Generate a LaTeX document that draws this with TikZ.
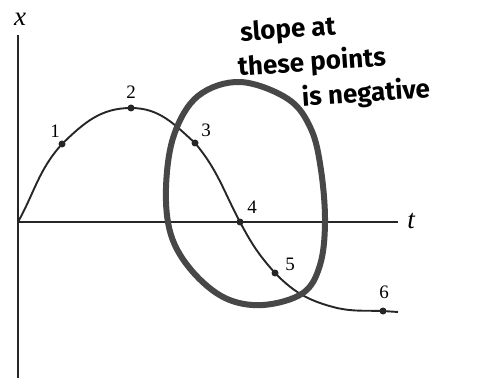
\documentclass[tikz,border=0pt]{standalone}
\usepackage{fontspec}
\setmainfont{Liberation Serif}
\newfontfamily\hand{Fira Sans}
\begin{document}
\begin{tikzpicture}[x=1pt,y=1pt,
  axis/.style={line width=2pt,black!85},
  curve/.style={line width=1.9pt,black!85},
  dot/.style={circle,fill=black!85,inner sep=0pt,minimum size=7pt},
  lab/.style={font=\fontsize{19}{19}\selectfont,inner sep=0pt},
  axlab/.style={font=\fontsize{27}{27}\selectfont\itshape,inner sep=0pt},
  loop/.style={line width=6pt,color=black!72,line cap=round,line join=round},
  note/.style={font=\hand\bfseries\fontsize{26}{26}\selectfont,inner sep=0pt,rotate=4}]
\useasboundingbox (0,0) rectangle (494,383);
% axes
\coordinate (xtop) at (18,348);
\coordinate (xbot) at (18,5);
\coordinate (tend) at (398,161);
\draw[axis] (xtop) -- (xbot);
\coordinate (O) at (18,161);
\draw[axis] (O) -- (tend);
\node[axlab] (xl) at (20,364) {x};
\node[axlab] (tl) at (411,162) {t};
% points
\coordinate (p1) at (62,239);
\coordinate (p2) at (131,275);
\coordinate (p3) at (195,240);
\coordinate (p4) at (240,161);
\coordinate (p5) at (275,110);
\coordinate (q) at (337,75);
\coordinate (p6) at (383,72);
\coordinate (e) at (398,71);
\draw[curve] (O) to[out=61,in=228] (p1) to[out=44,in=180] (p2)
  to[out=0,in=138] (p3) to[out=-50,in=118] (p4) to[out=-62,in=132] (p5)
  to[out=-46,in=166] (q) to[out=-12,in=178] (p6) -- (e);
\foreach \n in {p1,p2,p3,p4,p5,p6} \node[dot] at (\n) {};
\node[lab] (l1) at (55,252) {1};
\node[lab] (l2) at (131,291) {2};
\node[lab] (l3) at (206,253) {3};
\node[lab] (l4) at (252,176) {4};
\node[lab] (l5) at (290,119) {5};
\node[lab] (l6) at (384,91) {6};
% hand-drawn loop
\draw[loop] plot[smooth cycle,tension=0.6] coordinates {
  (240,301) (288,284) (311,254) (321,213) (325,161) (320,118) (303,90)
  (263,78) (225,85) (192,112) (171,148) (166,195) (174,248) (198,287)};
% handwritten note
\node[note] (n1) at (288,352) {slope at};
\node[note] (n2) at (312,320) {these points};
\node[note] (n3) at (366,289) {is negative};
\end{tikzpicture}
\end{document}
